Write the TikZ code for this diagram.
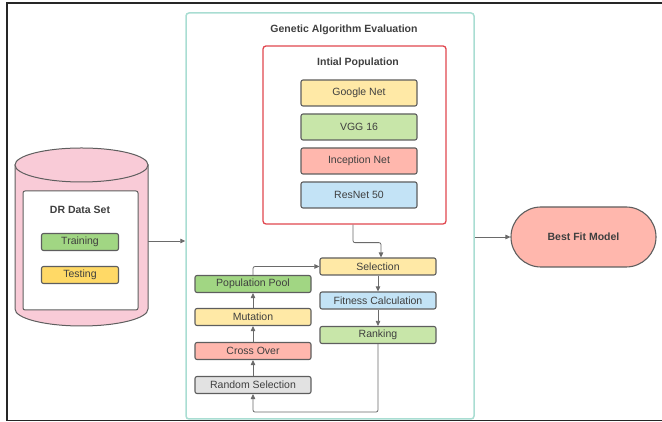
\documentclass[tikz,border=0pt]{standalone}
\usepackage{fontspec}
\setmainfont{Liberation Sans}
\usetikzlibrary{arrows.meta}
\definecolor{txtgray}{HTML}{3F3F3F}
\definecolor{edgegray}{HTML}{5E5E5E}
\definecolor{linkgray}{HTML}{6A6A6A}
\definecolor{cylpink}{HTML}{F9CBD7}
\definecolor{gaframe}{HTML}{A9DDD2}
\definecolor{popframe}{HTML}{E0474F}
\definecolor{grnfill}{HTML}{A1D683}
\definecolor{ltgrnfill}{HTML}{C8E6A9}
\definecolor{yelfill}{HTML}{FFD966}
\definecolor{ltyelfill}{HTML}{FFE9A6}
\definecolor{salfill}{HTML}{FFB7AD}
\definecolor{bluefill}{HTML}{C3E3F6}
\definecolor{grayfill}{HTML}{E2E2E2}
\begin{document}
\begin{tikzpicture}[x=1pt, y=1pt,
  every node/.style={font=\fontsize{10.5}{12}\selectfont, text=txtgray},
  box/.style={draw=edgegray, line width=1.1pt, rounded corners=2pt, inner sep=0pt,
    minimum width=116pt, minimum height=17pt},
  bigbox/.style={box, minimum height=26pt},
  title/.style={font=\fontsize{10.5}{12}\selectfont\bfseries},
  link/.style={draw=linkgray, line width=0.8pt, rounded corners=2pt,
    -{Triangle[length=5pt,width=4.5pt]}}]
  \useasboundingbox (0,0) rectangle (662,422);
  \draw[line width=1.4pt, black!85] (662,419) -- (7,419) -- (7,1.5) -- (662,1.5);

  % data set cylinder
  \draw[draw=edgegray, line width=1pt, fill=cylpink] (15,257) -- (15,113)
    arc[start angle=180, end angle=360, x radius=66.5, y radius=17] -- (148,257) -- cycle;
  \draw[draw=edgegray, line width=1pt, fill=cylpink] (81.5,257) ellipse [x radius=66.5, y radius=17];
  \coordinate (dbside) at (148,181);
  \node[draw=edgegray, line width=1pt, fill=white, rounded corners=2pt,
    minimum width=115pt, minimum height=119pt] (dsbox) at (80.5,171.5) {};
  \node[title] (dstitle) at (80,212) {DR Data Set};
  \node[box, fill=grnfill, minimum width=77pt] (train) at (80,180) {Training};
  \node[box, fill=yelfill, minimum width=77pt] (test) at (80,147) {Testing};

  % genetic algorithm frame
  \node[draw=gaframe, line width=1.5pt, rounded corners=3pt,
    minimum width=288pt, minimum height=406pt] (ga) at (330,206) {};
  \node[title] (gatitle) at (344,392) {Genetic Algorithm Evaluation};
  \node[draw=popframe, line width=1.3pt, rounded corners=3pt,
    minimum width=183pt, minimum height=178pt] (initpop) at (354.5,287) {};
  \node[title] (poptitle) at (358,359) {Intial Population};
  \node[bigbox, fill=ltyelfill] (google) at (359,329) {Google Net};
  \node[bigbox, fill=ltgrnfill] (vgg) at (359,295) {VGG 16};
  \node[bigbox, fill=salfill] (incep) at (359,261) {Inception Net};
  \node[bigbox, fill=bluefill] (resnet) at (359,227) {ResNet 50};

  \node[box, fill=ltyelfill] (sel) at (378,155.5) {Selection};
  \node[box, fill=bluefill] (fit) at (378,121.5) {Fitness Calculation};
  \node[box, fill=ltgrnfill] (rank) at (378,87) {Ranking};
  \node[box, fill=grnfill] (pool) at (253,138) {Population Pool};
  \node[box, fill=ltyelfill] (mut) at (253,105) {Mutation};
  \node[box, fill=salfill] (cross) at (253,71) {Cross Over};
  \node[box, fill=grayfill] (rsel) at (253,37) {Random Selection};

  \node[draw=edgegray, line width=1.1pt, fill=salfill, rounded corners=30pt,
    minimum width=145pt, minimum height=60pt, title] (best) at (583.5,185) {Best Fit Model};

  \draw[link] (dbside) -- (dbside -| ga.west);
  \draw[link] (ga.east |- best.west) -- (best.west);
  \draw[link] ([xshift=-1.5pt]initpop.south) -- ++(0,-18) -| ([xshift=3pt]sel.north);
  \draw[link] (sel) -- (fit);
  \draw[link] (fit) -- (rank);
  \draw[link] (rank.south) -- ++(0,-68) -| (rsel.south);
  \draw[link] (rsel) -- (cross);
  \draw[link] (cross) -- (mut);
  \draw[link] (mut) -- (pool);
  \draw[link] (pool.north) |- (sel.west);
\end{tikzpicture}
\end{document}
